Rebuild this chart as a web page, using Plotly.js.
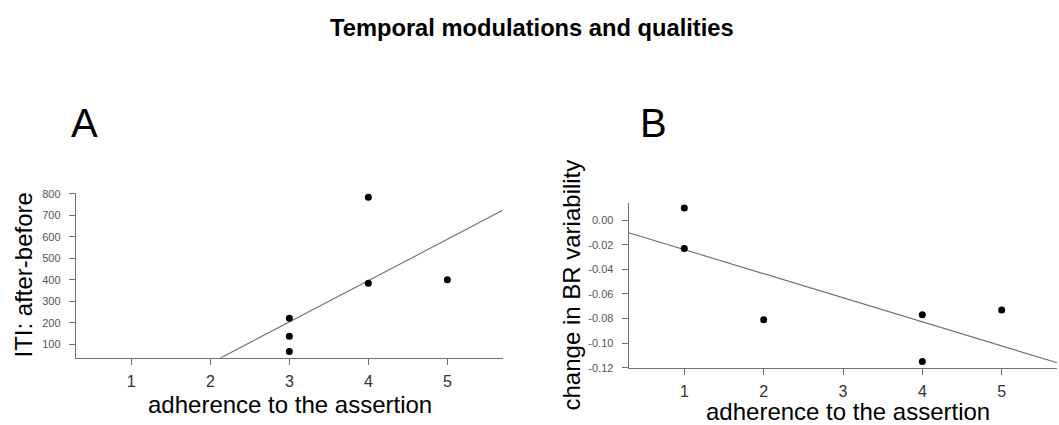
<!DOCTYPE html>
<html>
<head>
<meta charset="utf-8">
<script src="https://cdn.plot.ly/plotly-3.0.1.min.js"></script>
<style>html,body{margin:0;padding:0;background:#fff;}#chart{width:1059px;height:425px;}</style>
</head>
<body>
<div id="chart"></div>
<script>
// Panel A data
const adherenceA = [3, 3, 3, 4, 4, 5];
const itiAfterBefore = [221, 137, 66, 785, 384, 401];
// Panel B data
const adherenceB = [1, 1, 2, 4, 4, 5];
const brVariabilityChange = [0.010, -0.023, -0.081, -0.077, -0.115, -0.073];
// Tick labels
const xTicks = [1, 2, 3, 4, 5];
const yTicksA = [100, 200, 300, 400, 500, 600, 700, 800];
const yTicksB = [-0.12, -0.10, -0.08, -0.06, -0.04, -0.02, 0.00];
const yTickTextB = yTicksB.map(v => v.toFixed(2));

function linearFit(x, y) {
  const n = x.length;
  const mx = x.reduce((a, b) => a + b, 0) / n;
  const my = y.reduce((a, b) => a + b, 0) / n;
  let sxy = 0, sxx = 0;
  for (let i = 0; i < n; i++) { sxy += (x[i] - mx) * (y[i] - my); sxx += (x[i] - mx) ** 2; }
  const b = sxy / sxx;
  return { a: my - b * mx, b: b };
}

const W = 1059, H = 425;
const px = v => v / W;
const py = v => 1 - v / H;

const xRange = [0.3, 5.7];
const fitA = linearFit(adherenceA, itiAfterBefore);
const fitB = linearFit(adherenceB, brVariabilityChange);

const lineStyle = { color: '#6e6e6e', width: 1.1 };
const markerStyle = { color: '#000', size: 7 };

const traces = [
  { x: xRange, y: xRange.map(v => fitA.a + fitA.b * v), mode: 'lines', line: lineStyle, xaxis: 'x', yaxis: 'y', hoverinfo: 'skip' },
  { x: adherenceA, y: itiAfterBefore, mode: 'markers', marker: markerStyle, xaxis: 'x', yaxis: 'y', cliponaxis: false },
  { x: xRange, y: xRange.map(v => fitB.a + fitB.b * v), mode: 'lines', line: lineStyle, xaxis: 'x2', yaxis: 'y2', hoverinfo: 'skip' },
  { x: adherenceB, y: brVariabilityChange, mode: 'markers', marker: markerStyle, xaxis: 'x2', yaxis: 'y2', cliponaxis: false }
];

const axisCommon = {
  showline: true, linecolor: '#707070', linewidth: 1.2,
  ticks: 'outside', tickcolor: '#707070', tickwidth: 1, ticklen: 6,
  showgrid: false, zeroline: false, mirror: false
};
const xAxisCommon = Object.assign({}, axisCommon, {
  range: xRange, tickvals: xTicks, ticktext: xTicks.map(String),
  tickfont: { family: 'Liberation Sans, Arial, sans-serif', size: 16, color: '#333333' },
  ticklabelstandoff: 3
});
const yAxisCommon = Object.assign({}, axisCommon, {
  tickfont: { family: 'Liberation Sans, Arial, sans-serif', size: 11, color: '#555555' },
  ticklabelstandoff: 6
});

const font = 'Liberation Sans, Arial, Helvetica, sans-serif';

const layout = {
  width: W, height: H,
  margin: { l: 0, r: 0, t: 0, b: 0 },
  paper_bgcolor: '#fff', plot_bgcolor: '#fff',
  showlegend: false,
  font: { family: font, color: '#000' },
  xaxis: Object.assign({}, xAxisCommon, { domain: [px(76), px(502.7)], anchor: 'y' }),
  yaxis: Object.assign({}, yAxisCommon, { domain: [py(357.7), py(192.7)], anchor: 'x', range: [37.6, 806], tickvals: yTicksA, ticktext: yTicksA.map(String) }),
  xaxis2: Object.assign({}, xAxisCommon, { domain: [px(628.8), px(1057.2)], anchor: 'y2' }),
  yaxis2: Object.assign({}, yAxisCommon, { domain: [py(367.7), py(202.7)], anchor: 'x2', range: [-0.12, 0.0143], tickvals: yTicksB, ticktext: yTickTextB }),
  annotations: [
    { text: '<b>Temporal modulations and qualities</b>', xref: 'paper', yref: 'paper', x: px(532), y: py(28), xanchor: 'center', yanchor: 'middle', showarrow: false, font: { family: font, size: 23.7, color: '#000' } },
    { text: 'A', xref: 'paper', yref: 'paper', x: px(84), y: py(123), xanchor: 'center', yanchor: 'middle', showarrow: false, font: { family: font, size: 40, color: '#000' } },
    { text: 'B', xref: 'paper', yref: 'paper', x: px(653), y: py(123), xanchor: 'center', yanchor: 'middle', showarrow: false, font: { family: font, size: 40, color: '#000' } },
    { text: 'adherence to the assertion', xref: 'paper', yref: 'paper', x: px(289.5), y: py(404), xanchor: 'center', yanchor: 'middle', showarrow: false, font: { family: font, size: 24, color: '#000' } },
    { text: 'adherence to the assertion', xref: 'paper', yref: 'paper', x: px(847.5), y: py(411.5), xanchor: 'center', yanchor: 'middle', showarrow: false, font: { family: font, size: 24, color: '#000' } },
    { text: 'ITI: after-before', xref: 'paper', yref: 'paper', x: px(22.5), y: py(275), xanchor: 'center', yanchor: 'middle', textangle: -90, showarrow: false, font: { family: font, size: 24, color: '#000' } },
    { text: 'change in BR variability', xref: 'paper', yref: 'paper', x: px(570.5), y: py(285), xanchor: 'center', yanchor: 'middle', textangle: -90, showarrow: false, font: { family: font, size: 24, color: '#000' } }
  ]
};

Plotly.newPlot('chart', traces, layout, { displayModeBar: false, staticPlot: true });
</script>
</body>
</html>
